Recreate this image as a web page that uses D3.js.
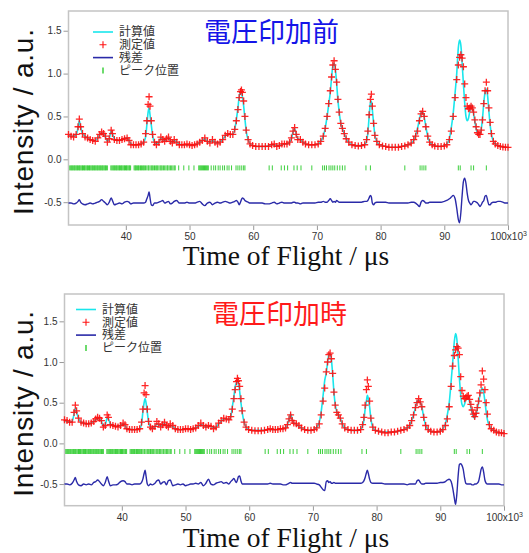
<!DOCTYPE html>
<html>
<head>
<meta charset="utf-8">
<script src="https://cdn.jsdelivr.net/npm/d3@7"></script>
<style>
  body { margin: 0; background: #fff; }
  svg { display: block; }
</style>
</head>
<body>
<svg id="chart" width="529" height="553"></svg>
<script>
// time of flight grid (x10^3 us)
const tof = [
  31.0, 31.4, 31.8, 32.2, 32.5, 32.7, 32.9, 33.2, 33.6, 34.0, 34.4, 34.8, 35.2, 35.6, 35.9, 36.2, 36.5, 36.8, 37.1, 37.4, 37.7, 37.9, 38.2, 38.6, 39.0, 39.4, 39.8, 40.2, 40.5, 40.8, 41.2, 41.6, 42.0, 42.4, 42.8,
  43.1, 43.3, 43.5, 43.65, 43.8, 44.0, 44.2, 44.5,
  44.8, 45.2, 45.5, 45.8, 46.1, 46.4, 46.7, 47.0, 47.3, 47.6, 48.0, 48.4, 48.8, 49.2, 49.6, 50.0, 50.4, 50.8, 51.2, 51.6, 52.0, 52.4, 52.8, 53.2, 53.6, 54.0, 54.4, 54.8, 55.2, 55.6, 56.0, 56.4, 56.8,
  57.1, 57.35, 57.6, 57.8, 58.0, 58.15, 58.3, 58.5, 58.7, 58.9, 59.2, 59.5,
  59.9, 60.4, 60.9, 61.4, 61.9, 62.4, 62.9, 63.3, 63.7, 64.1, 64.5, 64.9, 65.3, 65.7,
  66.0, 66.25, 66.5, 66.75, 67.0, 67.4, 67.8,
  68.2, 68.7, 69.2, 69.7, 70.2, 70.6, 71.0,
  71.3, 71.6, 71.85, 72.1, 72.3, 72.5, 72.7, 72.9, 73.1, 73.3, 73.5, 73.75, 74.0, 74.3, 74.6, 75.0,
  75.5, 76.0, 76.5, 77.0, 77.5, 77.8,
  78.0, 78.2, 78.4, 78.55, 78.7, 78.9, 79.1, 79.4,
  79.8, 80.3, 80.8, 81.3, 81.8, 82.3, 82.8, 83.3, 83.8, 84.3, 84.8, 85.2,
  85.5, 85.8, 86.1, 86.35, 86.6, 86.85, 87.1, 87.4, 87.7, 88.1,
  88.5, 89.0, 89.5, 90.0, 90.4, 90.8,
  91.1, 91.4, 91.7, 91.95, 92.2, 92.4, 92.6, 92.8, 93.0, 93.2, 93.4, 93.6, 93.8, 94.0, 94.2, 94.4, 94.6, 94.8, 95.0, 95.2, 95.4, 95.6, 95.8, 96.0, 96.2, 96.4, 96.6, 96.8, 97.0, 97.2, 97.4, 97.7, 98.0,
  98.4, 98.8, 99.2, 99.6, 100.0
];

// before voltage (電圧印加前)
const obsBefore = [
  0.29, 0.27, 0.26, 0.29, 0.38, 0.47, 0.38, 0.30, 0.26, 0.25, 0.23, 0.22, 0.21, 0.25, 0.29, 0.32, 0.30, 0.27, 0.20, 0.24, 0.34, 0.30, 0.23, 0.22, 0.22, 0.23, 0.24, 0.25, 0.22, 0.17, 0.17, 0.17, 0.17, 0.18, 0.20,
  0.30, 0.45, 0.64, 0.73, 0.62, 0.45, 0.29, 0.20,
  0.17, 0.20, 0.26, 0.23, 0.21, 0.24, 0.26, 0.21, 0.19, 0.23, 0.20, 0.17, 0.17, 0.17, 0.18, 0.17, 0.16, 0.17, 0.18, 0.20, 0.22, 0.25, 0.21, 0.19, 0.23, 0.20, 0.18, 0.20, 0.23, 0.28, 0.30, 0.29, 0.29,
  0.35, 0.45, 0.58, 0.72, 0.79, 0.81, 0.78, 0.68, 0.50, 0.34, 0.23, 0.18,
  0.16, 0.15, 0.15, 0.15, 0.15, 0.15, 0.17, 0.18, 0.15, 0.16, 0.18, 0.18, 0.18, 0.20,
  0.25, 0.33, 0.37, 0.29, 0.23, 0.23, 0.20,
  0.18, 0.17, 0.17, 0.17, 0.18, 0.21, 0.27,
  0.36, 0.50, 0.65, 0.80, 0.96, 1.10, 1.15, 1.05, 0.90, 0.70, 0.55, 0.42, 0.36, 0.30, 0.24, 0.20,
  0.17, 0.16, 0.155, 0.16, 0.17, 0.23,
  0.33, 0.52, 0.70, 0.76, 0.62, 0.42, 0.28, 0.21,
  0.17, 0.155, 0.15, 0.14, 0.14, 0.14, 0.14, 0.15, 0.155, 0.17, 0.19, 0.23,
  0.27, 0.33, 0.45, 0.53, 0.56, 0.50, 0.38, 0.27, 0.20, 0.17,
  0.155, 0.15, 0.15, 0.155, 0.17, 0.23,
  0.33, 0.50, 0.72, 0.93, 1.10, 1.19, 1.22, 1.18, 1.08, 0.88, 0.72, 0.62, 0.59, 0.60, 0.62, 0.60, 0.55, 0.46, 0.38, 0.31, 0.29, 0.29, 0.34, 0.46, 0.65, 0.80, 0.90, 0.80, 0.60, 0.43, 0.30, 0.21, 0.18,
  0.16, 0.15, 0.145, 0.14, 0.14
];
const calcBefore = [
  0.28, 0.27, 0.27, 0.29, 0.37, 0.45, 0.38, 0.30, 0.27, 0.25, 0.23, 0.22, 0.22, 0.25, 0.29, 0.31, 0.30, 0.26, 0.21, 0.24, 0.33, 0.30, 0.24, 0.22, 0.22, 0.23, 0.24, 0.25, 0.22, 0.18, 0.17, 0.17, 0.17, 0.18, 0.20,
  0.26, 0.40, 0.55, 0.60, 0.52, 0.40, 0.28, 0.20,
  0.18, 0.20, 0.25, 0.23, 0.21, 0.24, 0.25, 0.21, 0.20, 0.22, 0.20, 0.18, 0.17, 0.17, 0.17, 0.17, 0.17, 0.17, 0.18, 0.20, 0.22, 0.24, 0.21, 0.20, 0.22, 0.20, 0.19, 0.20, 0.23, 0.27, 0.30, 0.29, 0.29,
  0.35, 0.46, 0.60, 0.73, 0.79, 0.78, 0.73, 0.62, 0.47, 0.33, 0.23, 0.18,
  0.16, 0.15, 0.15, 0.15, 0.15, 0.16, 0.17, 0.17, 0.16, 0.16, 0.17, 0.18, 0.18, 0.20,
  0.24, 0.32, 0.36, 0.29, 0.24, 0.23, 0.20,
  0.18, 0.17, 0.17, 0.17, 0.18, 0.21, 0.27,
  0.36, 0.50, 0.64, 0.78, 0.95, 1.09, 1.12, 1.05, 0.88, 0.69, 0.55, 0.42, 0.36, 0.30, 0.24, 0.20,
  0.17, 0.16, 0.16, 0.16, 0.17, 0.22,
  0.31, 0.50, 0.66, 0.68, 0.58, 0.42, 0.28, 0.21,
  0.17, 0.16, 0.15, 0.14, 0.14, 0.14, 0.14, 0.15, 0.16, 0.17, 0.19, 0.22,
  0.28, 0.36, 0.47, 0.54, 0.55, 0.49, 0.38, 0.27, 0.20, 0.17,
  0.16, 0.15, 0.15, 0.16, 0.18, 0.24,
  0.37, 0.54, 0.78, 1.00, 1.30, 1.39, 1.33, 1.12, 0.88, 0.66, 0.50, 0.45, 0.48, 0.56, 0.63, 0.61, 0.53, 0.44, 0.36, 0.31, 0.28, 0.29, 0.35, 0.48, 0.66, 0.78, 0.82, 0.74, 0.56, 0.40, 0.29, 0.21, 0.18,
  0.16, 0.15, 0.145, 0.14, 0.14
];
const resBefore = [
  -0.51, -0.51, -0.52, -0.51, -0.49, -0.47, -0.50, -0.52, -0.53, -0.52, -0.51, -0.52, -0.51, -0.50, -0.49, -0.47, -0.49, -0.51, -0.53, -0.50, -0.45, -0.48, -0.53, -0.52, -0.51, -0.52, -0.50, -0.49, -0.50, -0.52, -0.51, -0.51, -0.51, -0.51, -0.51,
  -0.50, -0.46, -0.42, -0.38, -0.45, -0.53, -0.54, -0.51,
  -0.51, -0.50, -0.49, -0.48, -0.51, -0.50, -0.49, -0.52, -0.51, -0.49, -0.48, -0.51, -0.51, -0.51, -0.50, -0.51, -0.51, -0.51, -0.50, -0.49, -0.52, -0.54, -0.51, -0.50, -0.53, -0.51, -0.50, -0.51, -0.50, -0.49, -0.50, -0.51, -0.50,
  -0.49, -0.48, -0.50, -0.53, -0.50, -0.47, -0.45, -0.46, -0.48, -0.49, -0.50, -0.51,
  -0.51, -0.51, -0.51, -0.51, -0.52, -0.52, -0.51, -0.50, -0.52, -0.51, -0.50, -0.51, -0.51, -0.51,
  -0.51, -0.50, -0.50, -0.51, -0.51, -0.52, -0.51,
  -0.51, -0.51, -0.51, -0.51, -0.50, -0.50, -0.49,
  -0.50, -0.50, -0.48, -0.46, -0.48, -0.50, -0.49, -0.50, -0.48, -0.49, -0.50, -0.50, -0.50, -0.50, -0.50, -0.50,
  -0.50, -0.50, -0.50, -0.50, -0.49, -0.49,
  -0.48, -0.45, -0.42, -0.44, -0.51, -0.53, -0.51, -0.50,
  -0.50, -0.50, -0.50, -0.51, -0.51, -0.51, -0.51, -0.51, -0.51, -0.51, -0.50, -0.50,
  -0.51, -0.53, -0.55, -0.50, -0.48, -0.49, -0.51, -0.51, -0.50, -0.50,
  -0.50, -0.50, -0.50, -0.49, -0.48, -0.46,
  -0.44, -0.42, -0.46, -0.57, -0.70, -0.74, -0.62, -0.42, -0.26, -0.22, -0.28, -0.40, -0.48, -0.51, -0.53, -0.51, -0.49, -0.49, -0.50, -0.51, -0.53, -0.55, -0.53, -0.50, -0.48, -0.43, -0.42, -0.48, -0.53, -0.53, -0.51, -0.50, -0.50,
  -0.49, -0.49, -0.50, -0.51, -0.51
];

// during voltage (電圧印加時)
const obsDuring = [
  0.29, 0.28, 0.26, 0.26, 0.38, 0.47, 0.40, 0.31, 0.26, 0.25, 0.24, 0.24, 0.25, 0.27, 0.30, 0.32, 0.31, 0.28, 0.20, 0.22, 0.35, 0.32, 0.23, 0.22, 0.21, 0.20, 0.22, 0.25, 0.23, 0.18, 0.17, 0.17, 0.17, 0.17, 0.18,
  0.26, 0.42, 0.62, 0.71, 0.60, 0.42, 0.27, 0.20,
  0.18, 0.21, 0.27, 0.24, 0.20, 0.23, 0.26, 0.22, 0.20, 0.24, 0.22, 0.18, 0.17, 0.17, 0.17, 0.18, 0.18, 0.17, 0.18, 0.19, 0.22, 0.25, 0.22, 0.20, 0.22, 0.21, 0.18, 0.20, 0.25, 0.28, 0.31, 0.30, 0.29,
  0.33, 0.42, 0.55, 0.66, 0.76, 0.80, 0.77, 0.70, 0.55, 0.40, 0.26, 0.20,
  0.17, 0.16, 0.155, 0.155, 0.155, 0.16, 0.17, 0.18, 0.17, 0.17, 0.17, 0.18, 0.18, 0.19,
  0.23, 0.30, 0.35, 0.28, 0.25, 0.24, 0.22,
  0.19, 0.17, 0.16, 0.16, 0.17, 0.19, 0.24,
  0.35, 0.52, 0.68, 0.88, 1.00, 1.09, 1.11, 1.04, 0.86, 0.63, 0.47, 0.38, 0.35, 0.31, 0.24, 0.19,
  0.17, 0.16, 0.16, 0.16, 0.17, 0.23,
  0.32, 0.47, 0.66, 0.78, 0.70, 0.52, 0.31, 0.20,
  0.16, 0.15, 0.14, 0.13, 0.13, 0.14, 0.14, 0.15, 0.16, 0.17, 0.19, 0.22,
  0.28, 0.35, 0.44, 0.50, 0.55, 0.51, 0.45, 0.32, 0.22, 0.17,
  0.15, 0.14, 0.14, 0.15, 0.17, 0.22,
  0.30, 0.45, 0.70, 0.95, 1.08, 1.15, 1.19, 1.17, 1.09, 0.82, 0.65, 0.58, 0.55, 0.56, 0.58, 0.59, 0.54, 0.48, 0.41, 0.36, 0.33, 0.37, 0.44, 0.52, 0.62, 0.72, 0.89, 0.79, 0.66, 0.50, 0.36, 0.23, 0.18,
  0.16, 0.14, 0.13, 0.13, 0.12
];
const calcDuring = [
  0.28, 0.27, 0.26, 0.27, 0.36, 0.43, 0.38, 0.31, 0.26, 0.25, 0.24, 0.24, 0.25, 0.27, 0.29, 0.31, 0.30, 0.27, 0.21, 0.23, 0.31, 0.30, 0.24, 0.22, 0.21, 0.21, 0.22, 0.24, 0.22, 0.18, 0.17, 0.17, 0.17, 0.17, 0.18,
  0.24, 0.38, 0.50, 0.55, 0.50, 0.38, 0.26, 0.20,
  0.18, 0.20, 0.24, 0.23, 0.21, 0.23, 0.24, 0.22, 0.20, 0.22, 0.21, 0.18, 0.17, 0.17, 0.17, 0.18, 0.18, 0.17, 0.18, 0.19, 0.21, 0.23, 0.22, 0.20, 0.21, 0.21, 0.19, 0.20, 0.24, 0.27, 0.30, 0.30, 0.29,
  0.33, 0.45, 0.58, 0.70, 0.74, 0.76, 0.74, 0.64, 0.50, 0.38, 0.26, 0.20,
  0.17, 0.16, 0.16, 0.16, 0.16, 0.16, 0.17, 0.17, 0.17, 0.17, 0.17, 0.18, 0.18, 0.19,
  0.23, 0.30, 0.36, 0.29, 0.25, 0.24, 0.21,
  0.19, 0.17, 0.16, 0.16, 0.17, 0.20, 0.26,
  0.39, 0.59, 0.77, 0.87, 0.99, 1.09, 1.10, 1.03, 0.85, 0.63, 0.48, 0.39, 0.35, 0.31, 0.24, 0.19,
  0.17, 0.16, 0.16, 0.16, 0.17, 0.22,
  0.28, 0.42, 0.52, 0.59, 0.55, 0.45, 0.30, 0.20,
  0.16, 0.15, 0.14, 0.14, 0.14, 0.14, 0.14, 0.15, 0.16, 0.17, 0.19, 0.22,
  0.28, 0.35, 0.44, 0.52, 0.53, 0.51, 0.45, 0.32, 0.22, 0.17,
  0.15, 0.14, 0.14, 0.15, 0.18, 0.24,
  0.35, 0.50, 0.76, 1.00, 1.25, 1.35, 1.28, 1.05, 0.80, 0.60, 0.48, 0.45, 0.48, 0.54, 0.58, 0.57, 0.51, 0.44, 0.37, 0.32, 0.31, 0.35, 0.42, 0.50, 0.58, 0.65, 0.68, 0.63, 0.52, 0.39, 0.29, 0.22, 0.18,
  0.16, 0.14, 0.13, 0.13, 0.13
];
const resDuring = [
  -0.50, -0.50, -0.51, -0.49, -0.45, -0.42, -0.47, -0.51, -0.52, -0.50, -0.51, -0.50, -0.51, -0.48, -0.47, -0.45, -0.47, -0.50, -0.52, -0.48, -0.41, -0.46, -0.52, -0.51, -0.51, -0.50, -0.47, -0.46, -0.47, -0.50, -0.50, -0.51, -0.50, -0.50, -0.50,
  -0.48, -0.44, -0.37, -0.33, -0.40, -0.50, -0.52, -0.50,
  -0.51, -0.49, -0.46, -0.45, -0.50, -0.48, -0.47, -0.51, -0.46, -0.45, -0.52, -0.51, -0.50, -0.51, -0.50, -0.52, -0.51, -0.50, -0.50, -0.49, -0.50, -0.48, -0.52, -0.49, -0.44, -0.50, -0.51, -0.49, -0.48, -0.47, -0.49, -0.48, -0.50,
  -0.47, -0.45, -0.43, -0.46, -0.48, -0.45, -0.41, -0.40, -0.46, -0.50, -0.50, -0.50,
  -0.50, -0.50, -0.50, -0.50, -0.50, -0.50, -0.50, -0.49, -0.50, -0.50, -0.50, -0.50, -0.51, -0.51,
  -0.50, -0.49, -0.48, -0.49, -0.49, -0.49, -0.49,
  -0.49, -0.49, -0.49, -0.49, -0.49, -0.50, -0.51,
  -0.54, -0.57, -0.58, -0.47, -0.46, -0.48, -0.47, -0.49, -0.49, -0.48, -0.49, -0.49, -0.49, -0.49, -0.49, -0.49,
  -0.49, -0.49, -0.49, -0.49, -0.49, -0.48,
  -0.46, -0.42, -0.36, -0.33, -0.37, -0.44, -0.48, -0.49,
  -0.49, -0.49, -0.49, -0.50, -0.50, -0.50, -0.50, -0.50, -0.50, -0.50, -0.51, -0.50,
  -0.50, -0.50, -0.50, -0.46, -0.45, -0.48, -0.50, -0.50, -0.49, -0.49,
  -0.49, -0.49, -0.49, -0.48, -0.48, -0.47,
  -0.45, -0.44, -0.47, -0.55, -0.67, -0.75, -0.62, -0.40, -0.26, -0.25, -0.27, -0.32, -0.42, -0.49, -0.50, -0.50, -0.50, -0.50, -0.51, -0.51, -0.50, -0.50, -0.49, -0.47, -0.40, -0.32, -0.29, -0.35, -0.45, -0.49, -0.50, -0.50, -0.50,
  -0.50, -0.50, -0.50, -0.51, -0.51
];

// Bragg peak positions (x10^3 us), same for both panels
const peakPos = [
  31.2, 31.35, 31.5, 31.6, 31.75, 31.9, 32.0, 32.15, 32.3, 32.4, 32.55, 32.7, 32.8, 32.95, 33.1, 33.2, 33.35, 33.5, 33.6, 33.75, 33.9, 34.0, 34.15, 34.3, 34.4, 34.55, 34.7, 34.8, 34.95, 35.1, 35.2, 35.35, 35.5, 35.6, 35.75, 35.9, 36.0, 36.15, 36.3, 36.4, 36.55, 36.7, 36.8, 36.95, 37.1,
  37.65, 37.8, 37.95, 38.1, 38.2, 38.35, 38.5, 38.6, 38.75, 38.9, 39.0, 39.15, 39.3, 39.4, 39.55, 39.7, 39.8, 39.95, 40.1, 40.2, 40.35, 40.5, 40.6, 40.75,
  41.3, 41.45, 41.55, 41.7, 41.85, 42.0, 42.1, 42.3, 42.45, 42.6, 42.8, 42.9, 43.1, 43.3, 43.5, 43.6, 43.8, 44.0, 44.15, 44.3, 44.5, 44.7, 44.85, 45.0, 45.2, 45.4, 45.55, 45.7, 45.9, 46.1, 46.3, 46.5, 46.6, 46.8, 47.0, 47.2, 47.4, 47.6, 47.75,
  48.3, 49.1, 49.9, 50.7,
  51.45, 51.6, 51.75, 51.9, 52.05, 52.2, 52.35, 52.5, 52.65, 52.8, 52.95,
  53.4, 53.8, 54.1, 54.5, 54.8, 55.2, 55.5, 55.9, 56.2, 56.6,
  57.3, 57.6, 57.9, 58.2, 58.5, 58.7,
  62.5, 63.0, 64.4, 64.9, 65.4, 66.4, 66.9, 67.5, 69.2,
  70.9, 71.2, 71.5, 71.9, 72.2, 72.5, 72.8, 73.2, 73.6, 74.0, 74.4,
  77.7, 78.4, 83.8, 86.2, 86.5, 86.8, 87.1, 92.2, 92.5, 94.2, 94.6, 96.6
];

const yTicks = [1.5, 1.0, 0.5, 0.0, -0.5];
const xTicks = [40, 50, 60, 70, 80, 90, 100];
const legendLabels = ['計算値', '測定値', '残差', 'ピーク位置'];

const colors = {calc: '#19e6ec', obs: '#ff1010', res: '#2a2aa8', peak: '#3ccf3c'};

const svg = d3.select('#chart');

function drawPanel(p) {
  const x = d3.scaleLinear().domain([31, 100]).range([p.left, p.right]);
  const y = d3.scaleLinear().domain([-0.766, p.yMax]).range([p.bottom, p.top]);
  const g = svg.append('g');

  // y axis
  const yAxis = g.append('g')
    .attr('transform', 'translate(' + p.left + ',0)')
    .call(d3.axisLeft(y).tickValues(yTicks).tickFormat(d => d.toFixed(1)).tickSize(5).tickPadding(2));
  // x axis
  const xAxis = g.append('g')
    .attr('transform', 'translate(0,' + p.bottom + ')')
    .call(d3.axisBottom(x).tickValues(xTicks).tickSize(5).tickPadding(3));
  [yAxis, xAxis].forEach(a => {
    a.select('.domain').remove();
    a.selectAll('line').attr('stroke', '#999');
    a.selectAll('text').attr('fill', '#333').style('font-family', 'Liberation Sans, Arial, sans-serif').style('font-size', '10px');
  });
  xAxis.selectAll('.tick').filter(d => d === 100).select('text').text(null)
    .call(t => {
      t.append('tspan').text('100x10');
      t.append('tspan').attr('dy', -4).style('font-size', '7px').text('3');
    });

  // frame
  g.append('rect')
    .attr('x', p.left).attr('y', p.top)
    .attr('width', p.right - p.left).attr('height', p.bottom - p.top)
    .attr('fill', 'none').attr('stroke', '#c4c4c4').attr('stroke-width', 1.5);

  // calculated profile
  g.append('path')
    .datum(tof.map((t, i) => [t, p.calc[i]]))
    .attr('fill', 'none').attr('stroke', colors.calc).attr('stroke-width', 1.6)
    .attr('d', d3.line().x(d => x(d[0])).y(d => y(d[1])).curve(d3.curveMonotoneX));

  // measured points
  g.append('g').selectAll('path')
    .data(tof.map((t, i) => [t, p.obs[i]]))
    .enter().append('path')
    .attr('transform', d => 'translate(' + x(d[0]) + ',' + y(d[1]) + ')')
    .attr('d', 'M-3.5,0H3.5M0,-3.5V3.5')
    .attr('stroke', colors.obs).attr('stroke-width', 1.3).attr('opacity', 0.9);

  // peak positions
  g.append('g').selectAll('line')
    .data(peakPos)
    .enter().append('line')
    .attr('x1', d => x(d)).attr('x2', d => x(d))
    .attr('y1', y(-0.1) - 2.5).attr('y2', y(-0.1) + 2.5)
    .attr('stroke', colors.peak).attr('stroke-width', 1);

  // residual
  g.append('path')
    .datum(tof.map((t, i) => [t, p.res[i]]))
    .attr('fill', 'none').attr('stroke', colors.res).attr('stroke-width', 1.4)
    .attr('d', d3.line().x(d => x(d[0])).y(d => y(d[1])).curve(d3.curveMonotoneX));

  // legend
  const lg = g.append('g').attr('transform', 'translate(' + p.legX + ',' + p.legY + ')');
  legendLabels.forEach((lab, i) => {
    const row = lg.append('g').attr('transform', 'translate(0,' + i * 12.8 + ')');
    if (i === 0 || i === 2) {
      row.append('line').attr('x1', 0).attr('x2', 20).attr('y1', 0).attr('y2', 0)
        .attr('stroke', i === 0 ? colors.calc : colors.res).attr('stroke-width', 1.6);
    } else if (i === 1) {
      row.append('path').attr('transform', 'translate(10,0)').attr('d', 'M-3.5,0H3.5M0,-3.5V3.5')
        .attr('stroke', colors.obs).attr('stroke-width', 1.1);
    } else {
      row.append('line').attr('x1', 10).attr('x2', 10).attr('y1', -3).attr('y2', 3)
        .attr('stroke', colors.peak).attr('stroke-width', 1.5);
    }
    row.append('text').attr('x', 26).attr('y', 4.3)
      .style('font-family', 'Noto Sans CJK JP, sans-serif').style('font-size', '12px')
      .attr('fill', '#333').text(lab);
  });

  // panel title
  g.append('text').attr('x', p.titleX).attr('y', p.titleY)
    .style('font-family', 'Noto Sans CJK JP, sans-serif').style('font-size', '27px')
    .attr('fill', p.titleColor).text(p.title);

  // axis titles
  g.append('text')
    .attr('transform', 'translate(' + p.yTitleX + ',' + ((p.top + p.bottom) / 2 + 4) + ') rotate(-90)')
    .attr('text-anchor', 'middle')
    .style('font-family', 'Liberation Sans, Arial, sans-serif').style('font-size', '28px')
    .attr('textLength', 186).attr('lengthAdjust', 'spacing')
    .attr('fill', '#111').text('Intensity / a.u.');
  g.append('text')
    .attr('x', 286).attr('y', p.xTitleY).attr('text-anchor', 'middle')
    .style('font-family', 'Liberation Serif, Times New Roman, serif').style('font-size', '27.5px')
    .attr('fill', '#111').text('Time of Flight / μs');
}

drawPanel({
  left: 68.5, right: 508, top: 11, bottom: 225, yMax: 1.73,
  obs: obsBefore, calc: calcBefore, res: resBefore,
  legX: 93, legY: 32, title: '電圧印加前', titleColor: '#1515e8', titleX: 204, titleY: 42,
  yTitleX: 33, xTitleY: 265
});
drawPanel({
  left: 64.5, right: 504, top: 294, bottom: 505.7, yMax: 1.836,
  obs: obsDuring, calc: calcDuring, res: resDuring,
  legX: 76, legY: 309.5, title: '電圧印加時', titleColor: '#ff1a1a', titleX: 212, titleY: 324,
  yTitleX: 33, xTitleY: 547
});
</script>
</body>
</html>
